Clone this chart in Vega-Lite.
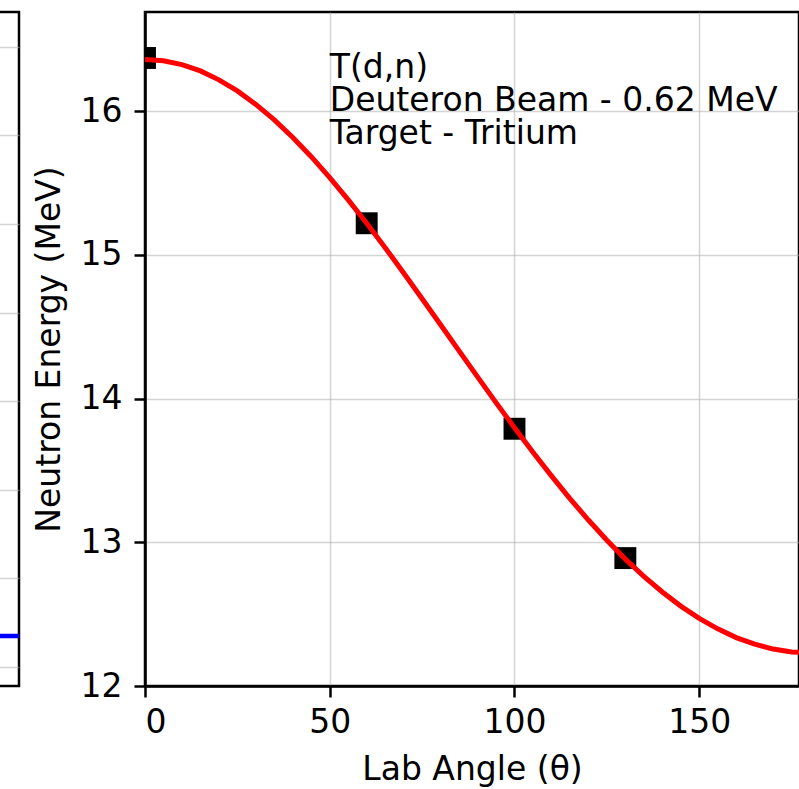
{
  "$schema": "https://vega.github.io/schema/vega-lite/v6.json",
  "padding": {"left": -30, "top": 10, "right": 0, "bottom": 0},
  "autosize": {"type": "pad"},
  "background": "white",
  "config": {
    "font": "DejaVu Sans",
    "view": {"stroke": "black", "strokeWidth": 2.5},
    "axis": {
      "labelFont": "DejaVu Sans", "titleFont": "DejaVu Sans",
      "labelFontSize": 33, "titleFontSize": 33,
      "labelColor": "black", "titleColor": "black",
      "titleFontWeight": "normal",
      "domainColor": "black", "domainWidth": 2.5,
      "tickColor": "black", "tickWidth": 2.5, "tickSize": 11,
      "gridColor": "#b0b0b0", "gridOpacity": 0.55, "gridWidth": 1.5
    }
  },
  "datasets": {
    "curve": [
      {"angle": 0, "energy": 16.360}, {"angle": 5, "energy": 16.351}, {"angle": 10, "energy": 16.324},
      {"angle": 15, "energy": 16.280}, {"angle": 20, "energy": 16.218}, {"angle": 25, "energy": 16.141},
      {"angle": 30, "energy": 16.047}, {"angle": 35, "energy": 15.939}, {"angle": 40, "energy": 15.817},
      {"angle": 45, "energy": 15.683}, {"angle": 50, "energy": 15.538}, {"angle": 55, "energy": 15.383},
      {"angle": 60, "energy": 15.220}, {"angle": 65, "energy": 15.050}, {"angle": 70, "energy": 14.874},
      {"angle": 75, "energy": 14.695}, {"angle": 80, "energy": 14.514}, {"angle": 85, "energy": 14.332},
      {"angle": 90, "energy": 14.151}, {"angle": 95, "energy": 13.972}, {"angle": 100, "energy": 13.797},
      {"angle": 105, "energy": 13.627}, {"angle": 110, "energy": 13.462}, {"angle": 115, "energy": 13.304},
      {"angle": 120, "energy": 13.155}, {"angle": 125, "energy": 13.014}, {"angle": 130, "energy": 12.883},
      {"angle": 135, "energy": 12.763}, {"angle": 140, "energy": 12.654}, {"angle": 145, "energy": 12.556},
      {"angle": 150, "energy": 12.471}, {"angle": 155, "energy": 12.398}, {"angle": 160, "energy": 12.337},
      {"angle": 165, "energy": 12.291}, {"angle": 170, "energy": 12.257}, {"angle": 175, "energy": 12.237},
      {"angle": 180, "energy": 12.230}
    ],
    "measured": [
      {"angle": 0, "energy": 16.37}, {"angle": 60, "energy": 15.22},
      {"angle": 100, "energy": 13.79}, {"angle": 130, "energy": 12.89}
    ],
    "left": [
      {"x": 0, "y": 0.35}, {"x": 1, "y": 0.35}
    ]
  },
  "hconcat": [
    {
      "width": 47, "height": 674,
      "data": {"name": "left"},
      "mark": {"type": "line", "color": "blue", "strokeWidth": 4.5, "clip": true},
      "encoding": {
        "x": {"field": "x", "type": "quantitative", "axis": null, "scale": {"domain": [0, 1], "nice": false}},
        "y": {"field": "y", "type": "quantitative", "scale": {"domain": [-0.214, 7.393], "nice": false, "zero": false},
          "axis": {"values": [0, 1, 2, 3, 4, 5, 6, 7], "labels": false, "ticks": false, "domain": false, "title": null, "grid": true}}
      }
    },
    {
      "width": 654, "height": 674,
      "layer": [
        {
          "data": {"name": "measured"},
          "mark": {"type": "point", "shape": "square", "filled": true, "color": "black", "size": 480, "opacity": 1, "clip": true},
          "encoding": {
            "x": {"field": "angle", "type": "quantitative", "title": "Lab Angle (θ)",
              "scale": {"domain": [0, 177], "nice": false, "zero": false},
              "axis": {"values": [0, 50, 100, 150], "format": "d", "labelPadding": 9, "titlePadding": 14, "grid": true}},
            "y": {"field": "energy", "type": "quantitative", "title": "Neutron Energy (MeV)",
              "scale": {"domain": [12, 16.69], "nice": false, "zero": false},
              "axis": {"values": [12, 13, 14, 15, 16], "format": "d", "labelPadding": 12, "titlePadding": 14, "grid": true}}
          }
        },
        {
          "data": {"name": "curve"},
          "mark": {"type": "line", "color": "red", "strokeWidth": 5, "clip": true},
          "encoding": {
            "x": {"field": "angle", "type": "quantitative"},
            "y": {"field": "energy", "type": "quantitative"}
          }
        },
        {
          "data": {"values": [{"label": ["T(d,n)", "Deuteron Beam - 0.62 MeV", "Target - Tritium"]}]},
          "mark": {"type": "text", "align": "left", "baseline": "alphabetic", "fontSize": 33, "lineHeight": 33, "color": "black", "font": "DejaVu Sans"},
          "encoding": {
            "x": {"datum": 50},
            "y": {"datum": 16.23},
            "text": {"field": "label"}
          }
        }
      ]
    }
  ],
  "spacing": 10
}
